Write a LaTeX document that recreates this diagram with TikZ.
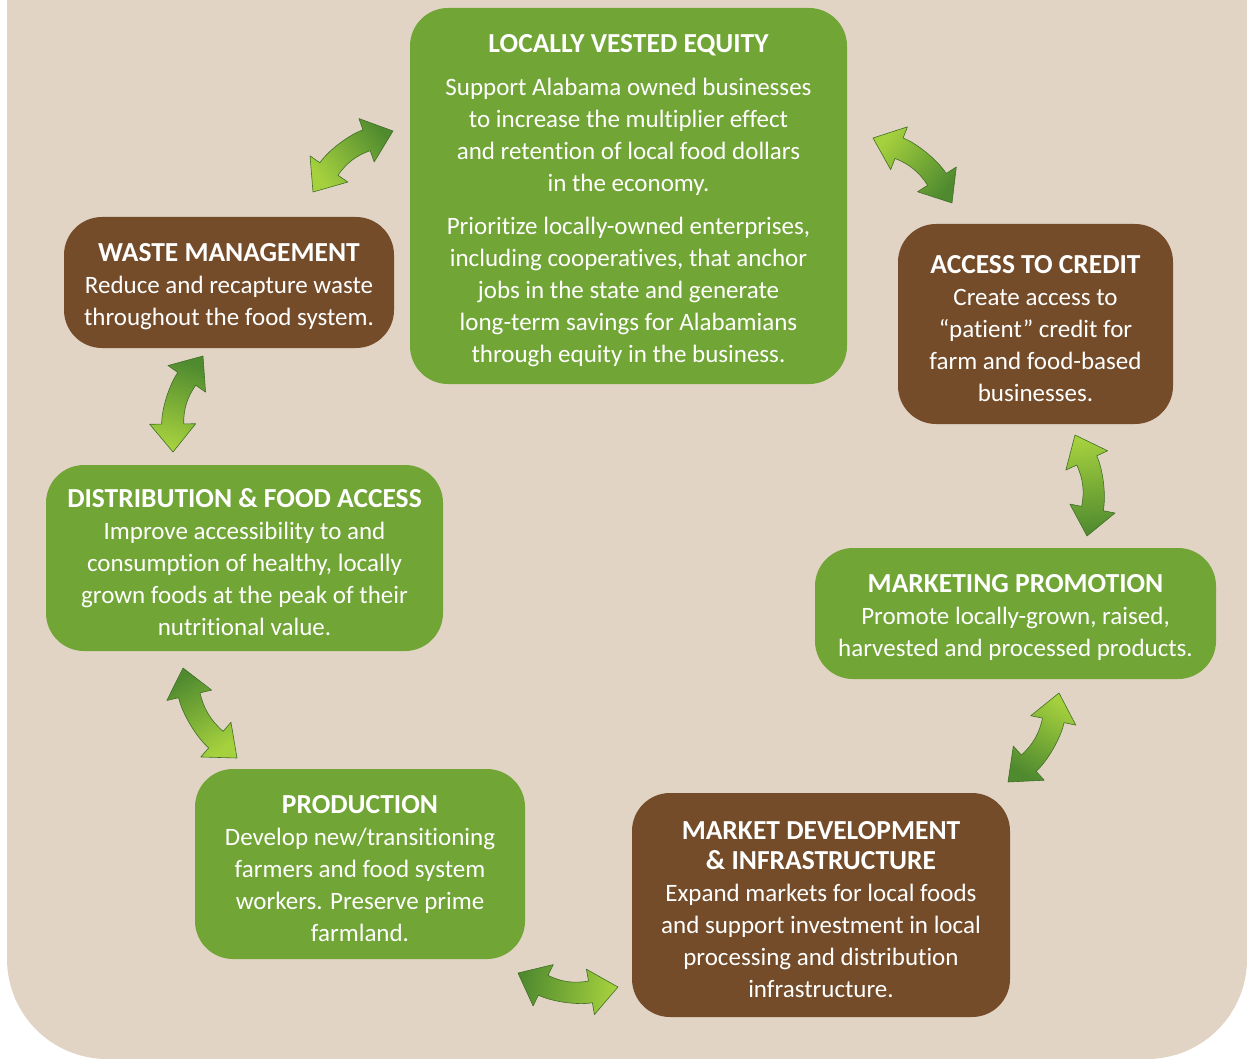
\documentclass[tikz,border=0pt]{standalone}
\usepackage{fontspec}
\setmainfont{Carlito}[Ligatures={TeX,NoCommon}]
\usepackage{tikz}
\usetikzlibrary{calc}
\definecolor{bgBeige}{HTML}{E2D4C4}
\definecolor{boxGreen}{HTML}{71A536}
\definecolor{boxBrown}{HTML}{744C29}
\definecolor{arrowLight}{HTML}{A6D13E}
\definecolor{arrowDark}{HTML}{4F8A2F}
\definecolor{arrowEdge}{HTML}{3E6F26}
\tikzset{
  goal/.style={rounded corners=38pt, inner sep=0pt, align=center, text=white,
    font=\fontsize{25}{32}\selectfont},
  green goal/.style={goal, fill=boxGreen},
  brown goal/.style={goal, fill=boxBrown},
  fat arrow/.style={top color=arrowDark, bottom color=arrowLight, draw=arrowEdge,
    line width=0.6pt, line join=round}
}
\newcommand{\goaltitle}[1]{{\fontsize{27.5}{32}\selectfont\bfseries\rule{0pt}{27pt}#1}}
\newcommand{\goalsubtitle}[1]{{\fontsize{27.5}{32}\selectfont\bfseries #1}}
% curved double arrow from #1 to #2, heads tilted by #3 degrees
\newcommand{\fatarrow}[3]{%
  \pgfpointdiff{\pgfpointanchor{#1}{center}}{\pgfpointanchor{#2}{center}}%
  \pgfgetlastxy{\fdx}{\fdy}%
  \pgfmathsetmacro\flen{veclen(\fdx,\fdy)}%
  \pgfmathsetmacro\fang{atan2(\fdy,\fdx)}%
  \pgfmathsetmacro\fshade{\fang-90}%
  \pgfmathsetmacro\fa{#3}\pgfmathsetmacro\fb{180-#3}%
  \pgfmathsetmacro\fau{\fa+90}\pgfmathsetmacro\fad{\fa-90}%
  \pgfmathsetmacro\fbu{\fb+90}\pgfmathsetmacro\fbd{\fb-90}%
  \pgfmathsetmacro\fc{(\flen-56)/3}%
  \begin{scope}[shift={(#1)}, rotate=\fang]
    \shade[fat arrow, shading angle=\fshade] (0pt,0pt)
      -- ([shift={(\fa:28pt)}]\fad:23pt) -- ([shift={(\fa:28pt)}]\fad:11pt)
      .. controls +(\fa:\fc pt) and +(\fb:\fc pt) ..
      ([shift={(\flen pt,0pt)}, shift={(\fb:28pt)}]\fbu:11pt)
      -- ([shift={(\flen pt,0pt)}, shift={(\fb:28pt)}]\fbu:23pt)
      -- (\flen pt,0pt)
      -- ([shift={(\flen pt,0pt)}, shift={(\fb:28pt)}]\fbd:23pt)
      -- ([shift={(\flen pt,0pt)}, shift={(\fb:28pt)}]\fbd:11pt)
      .. controls +(\fb:\fc pt) and +(\fa:\fc pt) ..
      ([shift={(\fa:28pt)}]\fau:11pt) -- ([shift={(\fa:28pt)}]\fau:23pt)
      -- cycle;
  \end{scope}}

\begin{document}
\begin{tikzpicture}[x=1pt, y=-1pt]
\useasboundingbox (0,0) rectangle (1247,1059);
% backdrop
\begin{scope}
  \clip (0,0) rectangle (1247,1059);
  \fill[bgBeige, rounded corners=100pt] (7,-200) rectangle (1247,1059);
\end{scope}

% goals
\node[green goal, minimum width=437, minimum height=376] (equity) at (628.5,196)
  {\goaltitle{LOCALLY VESTED EQUITY}\\[11pt]Support Alabama owned businesses\\to increase the multiplier effect\\and retention of local food dollars\\in the economy.\\[11pt]Prioritize locally-owned enterprises,\\including cooperatives, that anchor\\jobs in the state and generate\\long-term savings for Alabamians\\through equity in the business.};
\node[brown goal, minimum width=330, minimum height=131] (waste) at (229,282.5)
  {\goaltitle{WASTE MANAGEMENT}\\Reduce and recapture waste\\throughout the food system.};
\node[brown goal, minimum width=275, minimum height=200] (credit) at (1035.5,324)
  {\goaltitle{ACCESS TO CREDIT}\\Create access to\\``patient'' credit for\\farm and food-based\\businesses.};
\node[green goal, minimum width=397, minimum height=186] (distrib) at (244.5,558)
  {\goaltitle{DISTRIBUTION \& FOOD ACCESS}\\Improve accessibility to and\\consumption of healthy, locally\\grown foods at the peak of their\\nutritional value.};
\node[green goal, minimum width=401, minimum height=131] (marketing) at (1015.5,613.5)
  {\goaltitle{MARKETING PROMOTION}\\Promote locally-grown, raised,\\harvested and processed products.};
\node[green goal, minimum width=330, minimum height=190] (production) at (360,864)
  {\goaltitle{PRODUCTION}\\Develop new/transitioning\\farmers and food system\\workers. Preserve prime\\farmland.};
\node[brown goal, minimum width=378, minimum height=224] (marketdev) at (821,905)
  {\goaltitle{MARKET DEVELOPMENT}\\[-2pt]\goalsubtitle{\& INFRASTRUCTURE}\\Expand markets for local foods\\and support investment in local\\processing and distribution\\infrastructure.};

% arrow ends
\coordinate (waste-eq) at (313,192);
\coordinate (eq-waste) at (393,131);
\coordinate (eq-credit) at (873,138);
\coordinate (credit-eq) at (952,203);
\coordinate (credit-mkt) at (1075,435);
\coordinate (mkt-credit) at (1087,536);
\coordinate (mkt-dev) at (1059,693);
\coordinate (dev-mkt) at (1008,782);
\coordinate (dev-prod) at (618,987);
\coordinate (prod-dev) at (518,973);
\coordinate (prod-dist) at (237,758);
\coordinate (dist-prod) at (183,668);
\coordinate (dist-waste) at (173,452);
\coordinate (waste-dist) at (203,356);

% connectors
\fatarrow{waste-eq}{eq-waste}{18}
\fatarrow{eq-credit}{credit-eq}{18}
\fatarrow{credit-mkt}{mkt-credit}{18}
\fatarrow{mkt-dev}{dev-mkt}{18}
\fatarrow{dev-prod}{prod-dev}{18}
\fatarrow{prod-dist}{dist-prod}{18}
\fatarrow{dist-waste}{waste-dist}{18}
\end{tikzpicture}
\end{document}
